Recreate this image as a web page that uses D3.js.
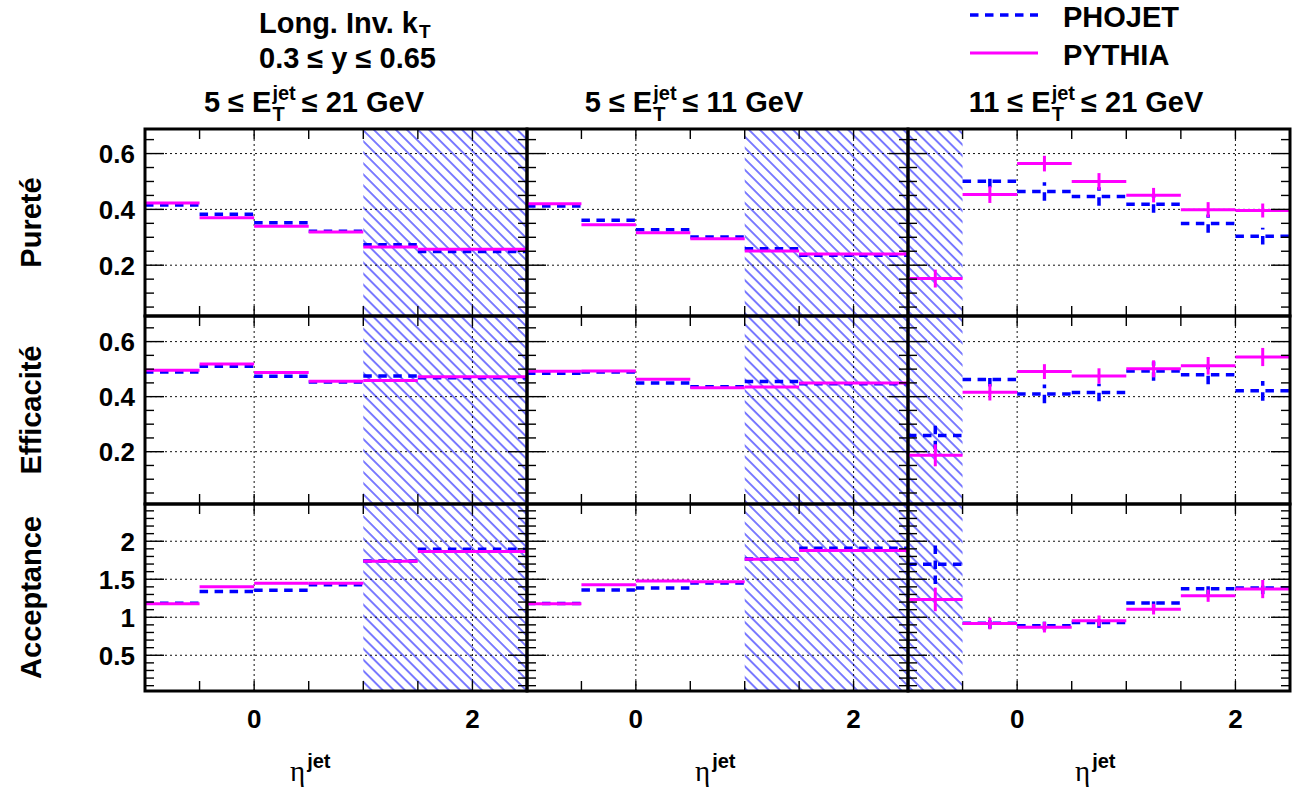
<!DOCTYPE html>
<html><head><meta charset="utf-8">
<script src="https://cdn.jsdelivr.net/npm/d3@7"></script>
<style>
body{margin:0;background:#fff}
svg{display:block}
text{font-family:"Liberation Sans",Arial,Helvetica,sans-serif;font-weight:bold;fill:#000;white-space:pre}
</style>
</head><body>
<svg id="c" width="1293" height="796"></svg>
<script>
// ---------------- data ----------------
const edgesWide = [-1, -0.5, 0, 0.5, 1, 1.5, 2.5];
const edgesFine = [-1, -0.5, 0, 0.5, 1, 1.5, 2, 2.5];
const columnRanges = [["5", "21"], ["5", "11"], ["11", "21"]];
const rowTitles = ["Pureté", "Efficacité", "Acceptance"];
const hatchRanges = [[1, 2.5], [1, 2.5], [-1, -0.5]];
const xTickLabels = [0, 2];
const yTickLabels = [[0.2, 0.4, 0.6], [0.2, 0.4, 0.6], [0.5, 1, 1.5, 2]];
const seriesNames = ["PHOJET", "PYTHIA"];

// Pureté
const purPhojet1 = [0.416, 0.383, 0.352, 0.322, 0.273, 0.249];
const purPythia1 = [0.423, 0.370, 0.340, 0.319, 0.265, 0.257];
const purPhojet2 = [0.412, 0.361, 0.327, 0.301, 0.259, 0.236];
const purPythia2 = [0.420, 0.345, 0.316, 0.295, 0.251, 0.240];
const purPhojet3 = [null, 0.501, 0.464, 0.446, 0.418, 0.349, 0.304];
const purPhojetErr3 = [0, 0.022, 0.033, 0.033, 0.030, 0.033, 0.030];
const purPythia3 = [0.152, 0.453, 0.564, 0.500, 0.451, 0.399, 0.396];
const purPythiaErr3 = [0.032, 0.030, 0.028, 0.030, 0.026, 0.027, 0.025];

// Efficacité
const effPhojet1 = [0.490, 0.510, 0.474, 0.453, 0.475, 0.469];
const effPythia1 = [0.496, 0.519, 0.488, 0.456, 0.459, 0.472];
const effPhojet2 = [0.485, 0.490, 0.450, 0.436, 0.455, 0.447];
const effPythia2 = [0.492, 0.493, 0.463, 0.432, 0.435, 0.450];
const effPhojet3 = [0.259, 0.462, 0.410, 0.415, 0.493, 0.480, 0.421];
const effPhojetErr3 = [0.050, 0.025, 0.034, 0.032, 0.035, 0.035, 0.036];
const effPythia3 = [0.187, 0.416, 0.491, 0.475, 0.501, 0.512, 0.544];
const effPythiaErr3 = [0.040, 0.030, 0.027, 0.028, 0.031, 0.032, 0.033];

// Acceptance
const accPhojet1 = [1.186, 1.340, 1.354, 1.428, 1.740, 1.894];
const accPythia1 = [1.178, 1.402, 1.446, 1.446, 1.736, 1.864];
const accPhojet2 = [1.180, 1.358, 1.384, 1.450, 1.766, 1.908];
const accPythia2 = [1.178, 1.428, 1.477, 1.468, 1.763, 1.877];
const accPhojet3 = [1.697, 0.920, 0.890, 0.930, 1.187, 1.376, 1.384];
const accPhojetErr3 = [0.260, 0.070, 0.060, 0.070, 0.090, 0.080, 0.080];
const accPythia3 = [1.235, 0.918, 0.870, 0.953, 1.107, 1.283, 1.371];
const accPythiaErr3 = [0.155, 0.077, 0.070, 0.070, 0.070, 0.080, 0.120];

// ---------------- layout ----------------
const svg = d3.select("#c");
const colBounds = [145, 527, 908, 1290];
const rowBounds = [129, 316, 504, 691];
const yDomains = [[0.018, 0.688], [0.01, 0.693], [0.03, 2.49]];
const yMinorStep = [0.05, 0.05, 0.1];
const yMajorStep = [0.2, 0.2, 0.5];
const BLUE = "#0000ff", MAG = "#ff00ff", HATCH = "#1a1aff";
const BIG = "29px", SMALL = "20px";

const panels = [
  [
    {edges: edgesWide, s: [purPhojet1, purPythia1], e: [null, null]},
    {edges: edgesWide, s: [purPhojet2, purPythia2], e: [null, null]},
    {edges: edgesFine, s: [purPhojet3, purPythia3], e: [purPhojetErr3, purPythiaErr3]}
  ],
  [
    {edges: edgesWide, s: [effPhojet1, effPythia1], e: [null, null]},
    {edges: edgesWide, s: [effPhojet2, effPythia2], e: [null, null]},
    {edges: edgesFine, s: [effPhojet3, effPythia3], e: [effPhojetErr3, effPythiaErr3]}
  ],
  [
    {edges: edgesWide, s: [accPhojet1, accPythia1], e: [null, null]},
    {edges: edgesWide, s: [accPhojet2, accPythia2], e: [null, null]},
    {edges: edgesFine, s: [accPhojet3, accPythia3], e: [accPhojetErr3, accPythiaErr3]}
  ]
];

const defs = svg.append("defs");
const pat = defs.append("pattern").attr("id", "hatch")
  .attr("patternUnits", "userSpaceOnUse").attr("width", 7.8).attr("height", 10)
  .attr("patternTransform", "rotate(-45)");
pat.append("line").attr("x1", 1).attr("y1", -1).attr("x2", 1).attr("y2", 11)
  .attr("stroke", HATCH).attr("stroke-width", 1.15);

const seriesStyle = [
  {color: BLUE, dash: "8.5,6.5", width: 3.5},
  {color: MAG, dash: null, width: 3}
];

for (let r = 0; r < 3; r++) {
  const y0 = rowBounds[r], y1 = rowBounds[r + 1];
  const y = d3.scaleLinear().domain(yDomains[r]).range([y1, y0]);
  for (let c = 0; c < 3; c++) {
    const x0 = colBounds[c], x1 = colBounds[c + 1];
    const x = d3.scaleLinear().domain([-1, 2.5]).range([x0, x1]);
    const p = panels[r][c];
    const cid = `clip${r}${c}`;
    defs.append("clipPath").attr("id", cid).append("rect")
      .attr("x", x0).attr("y", y0).attr("width", x1 - x0).attr("height", y1 - y0);
    const g = svg.append("g");
    const inner = g.append("g").attr("clip-path", `url(#${cid})`);
    // hatch
    const hr = hatchRanges[c];
    inner.append("rect").attr("x", x(hr[0])).attr("y", y0)
      .attr("width", x(hr[1]) - x(hr[0])).attr("height", y1 - y0)
      .attr("fill", "url(#hatch)");
    // grid
    yTickLabels[r].forEach(v => {
      inner.append("line").attr("x1", x0).attr("x2", x1).attr("y1", y(v)).attr("y2", y(v))
        .attr("stroke", "#111").attr("stroke-width", 1).attr("stroke-dasharray", "2,3");
    });
    xTickLabels.forEach(v => {
      inner.append("line").attr("x1", x(v)).attr("x2", x(v)).attr("y1", y0).attr("y2", y1)
        .attr("stroke", "#111").attr("stroke-width", 1).attr("stroke-dasharray", "2,3");
    });
    // series
    [0, 1].forEach(si => {
      const st = seriesStyle[si];
      const vals = p.s[si], errs = p.e[si];
      vals.forEach((v, i) => {
        if (v === null) return;
        const a = p.edges[i], b = p.edges[i + 1];
        const ln = inner.append("line").attr("x1", x(a)).attr("x2", x(b))
          .attr("y1", y(v)).attr("y2", y(v))
          .attr("stroke", st.color).attr("stroke-width", st.width);
        if (st.dash) ln.attr("stroke-dasharray", st.dash);
        if (errs && errs[i]) {
          const m = (a + b) / 2;
          const el = inner.append("line").attr("x1", x(m)).attr("x2", x(m))
            .attr("y1", y(v - errs[i])).attr("y2", y(v + errs[i]))
            .attr("stroke", st.color).attr("stroke-width", st.width);
          if (st.dash) el.attr("stroke-dasharray", st.dash);
        }
      });
    });
    // ticks
    const tk = g.append("g").attr("stroke", "#000").attr("stroke-width", 1.4);
    for (let v = -0.5; v < 2.5 - 1e-9; v += 0.5) {
      tk.append("line").attr("x1", x(v)).attr("x2", x(v)).attr("y1", y1).attr("y2", y1 - 10);
      tk.append("line").attr("x1", x(v)).attr("x2", x(v)).attr("y1", y0).attr("y2", y0 + 10);
    }
    const dom = yDomains[r];
    const ms = yMinorStep[r], Ms = yMajorStep[r];
    for (let k = Math.ceil(dom[0] / ms); k * ms <= dom[1]; k++) {
      const v = k * ms;
      const isMajor = Math.abs(v / Ms - Math.round(v / Ms)) < 1e-6;
      const len = isMajor ? 19 : 9;
      tk.append("line").attr("x1", x0).attr("x2", x0 + len).attr("y1", y(v)).attr("y2", y(v));
      tk.append("line").attr("x1", x1).attr("x2", x1 - len).attr("y1", y(v)).attr("y2", y(v));
    }
    // frame
    g.append("rect").attr("x", x0).attr("y", y0).attr("width", x1 - x0).attr("height", y1 - y0)
      .attr("fill", "none").attr("stroke", "#000").attr("stroke-width", 3);

    if (c === 0) {
      yTickLabels[r].forEach(v => {
        svg.append("text").attr("x", 135).attr("y", y(v) + 9.5)
          .attr("text-anchor", "end").style("font-size", "26px").text(String(v));
      });
    }
    if (r === 2) {
      xTickLabels.forEach(v => {
        svg.append("text").attr("x", x(v)).attr("y", 728)
          .attr("text-anchor", "middle").style("font-size", "26px").text(String(v));
      });
    }
  }
}

// row titles
const rowMid = [0, 1, 2].map(r => (rowBounds[r] + rowBounds[r + 1]) / 2);
rowTitles.forEach((t, r) => {
  svg.append("text").attr("transform", `translate(41,${rowMid[r]}) rotate(-90)`)
    .attr("text-anchor", "middle").style("font-size", BIG).text(t);
});

// column titles with E_T^jet
function etTitle(cx, base, lo, hi) {
  const g = svg.append("g");
  const t1 = g.append("text").attr("x", 0).attr("y", base).style("font-size", BIG).text(`${lo} ≤ E`);
  let w = t1.node().getComputedTextLength() + 1;
  const sup = g.append("text").attr("x", w).attr("y", base - 12).style("font-size", SMALL).text("jet");
  const sub = g.append("text").attr("x", w).attr("y", base + 9).style("font-size", SMALL).text("T");
  w += Math.max(sup.node().getComputedTextLength(), sub.node().getComputedTextLength()) + 6;
  const t2 = g.append("text").attr("x", w).attr("y", base).style("font-size", BIG).text(`≤ ${hi} GeV`);
  w += t2.node().getComputedTextLength();
  g.attr("transform", `translate(${cx - w / 2},0)`);
}
const colTitleCx = [314, 694, 1086];
columnRanges.forEach((cr, c) => etTitle(colTitleCx[c], 112, cr[0], cr[1]));

// header
{
  const t = svg.append("text").attr("x", 259).attr("y", 33).style("font-size", BIG).text("Long. Inv. k");
  const w = t.node().getComputedTextLength();
  svg.append("text").attr("x", 259 + w + 1).attr("y", 38).style("font-size", "19px").text("T");
  svg.append("text").attr("x", 259).attr("y", 68).style("font-size", BIG).text("0.3 ≤ y ≤ 0.65");
}

// legend
const legY = [15, 53];
seriesNames.forEach((n, i) => {
  const st = seriesStyle[i];
  const l = svg.append("line").attr("x1", 970).attr("x2", 1038).attr("y1", legY[i]).attr("y2", legY[i])
    .attr("stroke", st.color).attr("stroke-width", st.width);
  if (st.dash) l.attr("stroke-dasharray", st.dash);
  svg.append("text").attr("x", 1063).attr("y", legY[i] + 12).style("font-size", BIG).text(n);
});

// x axis titles
const xTitleX = [290, 695, 1075];
xTitleX.forEach(xx => {
  const g = svg.append("g");
  const eta = g.append("text").attr("x", xx).attr("y", 781)
    .style("font-family", "'Liberation Serif',serif").style("font-weight", "normal").style("font-size", "29px").text("η");
  const w = eta.node().getComputedTextLength();
  g.append("text").attr("x", xx + w + 2).attr("y", 768).style("font-size", SMALL).text("jet");
});
</script>
</body></html>
